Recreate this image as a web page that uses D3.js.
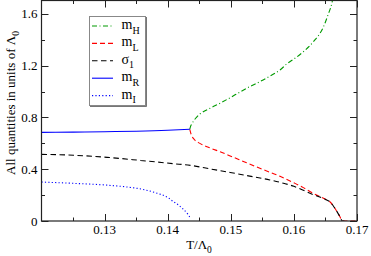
<!DOCTYPE html>
<html>
<head>
<meta charset="utf-8">
<script src="https://cdn.jsdelivr.net/npm/d3@7"></script>
<style>
  body { margin: 0; background: #fff; }
</style>
</head>
<body>
<svg id="chart" width="371" height="256" font-family="'Liberation Serif', 'Times New Roman', serif"></svg>
<script>
// curves, [T/Lambda0, value]
const mHData = [[0.1435, 0.709], [0.1436, 0.728], [0.1438, 0.748], [0.1444, 0.792], [0.1451, 0.826],
  [0.1467, 0.871], [0.1483, 0.910], [0.1499, 0.953], [0.1515, 0.998], [0.1530, 1.038],
  [0.1546, 1.077], [0.1562, 1.120], [0.1578, 1.167], [0.1589, 1.215], [0.1603, 1.262],
  [0.1615, 1.308], [0.1631, 1.386], [0.1647, 1.502], [0.1654, 1.592], [0.1660, 1.680], [0.1663, 1.75]]
const mLData = [[0.1435, 0.709], [0.1436, 0.688], [0.1438, 0.660], [0.1443, 0.625], [0.1451, 0.600],
  [0.1467, 0.565], [0.1483, 0.535], [0.1499, 0.503], [0.1525, 0.450], [0.1552, 0.396], [0.1578, 0.345],
  [0.1600, 0.295], [0.1615, 0.258], [0.1630, 0.215], [0.1641, 0.189], [0.1650, 0.168], [0.1657, 0.149],
  [0.1665, 0.098], [0.1673, 0.033], [0.1677, 0.0], [0.1700, 0.0]]
const sigmaData = [[0.1200, 0.515], [0.1251, 0.508], [0.1304, 0.492], [0.1357, 0.468], [0.1409, 0.443],
  [0.1436, 0.430], [0.1470, 0.400], [0.1499, 0.375], [0.1530, 0.347], [0.1562, 0.317],
  [0.1585, 0.290], [0.1600, 0.268], [0.1615, 0.238], [0.1630, 0.205], [0.1641, 0.186],
  [0.1650, 0.167], [0.1657, 0.149], [0.1665, 0.098], [0.1673, 0.033], [0.1677, 0.0], [0.1680, 0.0]]
const mRData = [[0.1200, 0.685], [0.1250, 0.687], [0.1300, 0.690], [0.1350, 0.694], [0.1400, 0.701], [0.1435, 0.709]]
const mIData = [[0.1200, 0.301], [0.1251, 0.291], [0.1304, 0.277], [0.1335, 0.263], [0.1360, 0.245],
  [0.1383, 0.215], [0.1400, 0.182], [0.1409, 0.150], [0.1418, 0.120], [0.1425, 0.090],
  [0.1432, 0.052], [0.1436, 0.022]]

const xMajor = [0.13, 0.14, 0.15, 0.16, 0.17]
const xMinor = [0.125, 0.135, 0.145, 0.155, 0.165]
const yMajor = [0, 0.4, 0.8, 1.2, 1.6]
const yMinor = [0.2, 0.6, 1.0, 1.4]

const series = [
  { name: 'm', sub: 'H', data: mHData, color: '#009a00', dash: '5,2.5,1,2.5' },
  { name: 'm', sub: 'L', data: mLData, color: '#ff0000', dash: '5,3' },
  { name: 'σ', sub: '1', data: sigmaData, color: '#000000', dash: '5.5,3.5' },
  { name: 'm', sub: 'R', data: mRData, color: '#0000ff', dash: null },
  { name: 'm', sub: 'I', data: mIData, color: '#0000ff', dash: '1.2,2.2' }
]

const pLeft = 41.5, pRight = 357, pTop = 0.5, pBottom = 221
const svg = d3.select('#chart')

let x = d3.scaleLinear().domain([0.12, 0.17]).range([pLeft, pRight])
let y = d3.scaleLinear().domain([0, 1.7]).range([pBottom, pTop + 0.5])

svg.append('clipPath').attr('id', 'clip')
  .append('rect')
  .attr('x', pLeft).attr('y', pTop)
  .attr('width', pRight - pLeft).attr('height', pBottom - pTop)

let line = d3.line()
  .x(d => x(d[0]))
  .y(d => y(d[1]))
  .curve(d3.curveMonotoneX)

svg.append('g')
  .attr('clip-path', 'url(#clip)')
  .selectAll('path')
  .data(series)
  .enter()
  .append('path')
  .attr('d', d => line(d.data))
  .attr('fill', 'none')
  .attr('stroke', d => d.color)
  .attr('stroke-width', 1.1)
  .attr('stroke-dasharray', d => d.dash)

// inward ticks on all four sides
let ticks = svg.append('g').attr('stroke', '#222').attr('stroke-width', 1)
let tickRows = [
  ...xMajor.map(v => ({ v, len: 7, dir: 'x' })),
  ...xMinor.map(v => ({ v, len: 3.5, dir: 'x' })),
  ...yMajor.map(v => ({ v, len: 7, dir: 'y' })),
  ...yMinor.map(v => ({ v, len: 3.5, dir: 'y' }))
]
tickRows.forEach(t => {
  if (t.dir === 'x') {
    let px = Math.round(x(t.v)) + 0.5
    ticks.append('line').attr('x1', px).attr('x2', px).attr('y1', pBottom).attr('y2', pBottom - t.len)
    ticks.append('line').attr('x1', px).attr('x2', px).attr('y1', pTop).attr('y2', pTop + t.len)
  } else {
    let py = Math.round(y(t.v)) + 0.5
    ticks.append('line').attr('y1', py).attr('y2', py).attr('x1', pLeft).attr('x2', pLeft + t.len)
    ticks.append('line').attr('y1', py).attr('y2', py).attr('x1', pRight).attr('x2', pRight - t.len)
  }
})

svg.append('rect')
  .attr('x', pLeft).attr('y', pTop)
  .attr('width', pRight - pLeft).attr('height', pBottom - pTop)
  .attr('fill', 'none')
  .attr('stroke', '#222')
  .attr('stroke-width', 1.2)

svg.append('g')
  .selectAll('text')
  .data(xMajor)
  .enter()
  .append('text')
  .attr('x', d => x(d))
  .attr('y', 234)
  .attr('text-anchor', 'middle')
  .attr('font-size', 13)
  .text(d => d3.format('.2f')(d))

svg.append('g')
  .selectAll('text')
  .data(yMajor)
  .enter()
  .append('text')
  .attr('x', 37.5)
  .attr('y', d => y(d) + 4.5)
  .attr('text-anchor', 'end')
  .attr('font-size', 13)
  .text(d => d === 0 ? '0' : d3.format('.1f')(d))

let xl = svg.append('text')
  .attr('x', 199)
  .attr('y', 249)
  .attr('text-anchor', 'middle')
  .attr('font-size', 13)
xl.append('tspan').text('T/Λ')
xl.append('tspan').attr('font-size', 9.5).attr('dy', 4).text('0')

let yl = svg.append('text')
  .attr('transform', 'translate(14.5,103) rotate(-90)')
  .attr('text-anchor', 'middle')
  .attr('font-size', 13)
yl.append('tspan').text('All quantities in units of Λ')
yl.append('tspan').attr('font-size', 9.5).attr('dy', 4).text('0')

// legend box
let legend = svg.append('g')
legend.append('rect')
  .attr('x', 90.5).attr('y', 17.5)
  .attr('width', 56).attr('height', 89)
  .attr('fill', 'none')
  .attr('stroke', '#555')
  .attr('stroke-width', 0.8)
legend.append('rect')
  .attr('x', 89.5).attr('y', 16.5)
  .attr('width', 56).attr('height', 89)
  .attr('fill', '#fff')
  .attr('stroke', '#888')
  .attr('stroke-width', 1)

let rows = legend.selectAll('g.row')
  .data(series)
  .enter()
  .append('g')
  .attr('class', 'row')
  .attr('transform', (d, i) => `translate(0,${26 + i * 17.4})`)

rows.append('line')
  .attr('x1', 92).attr('x2', 113)
  .attr('y1', 0).attr('y2', 0)
  .attr('stroke', d => d.color)
  .attr('stroke-width', 1.1)
  .attr('stroke-dasharray', d => d.dash)

let lt = rows.append('text')
  .attr('x', 121.5)
  .attr('y', 3)
  .attr('font-size', 14)
lt.append('tspan').text(d => d.name)
lt.append('tspan').attr('font-size', 10).attr('dy', 4.5).text(d => d.sub)
</script>
</body>
</html>
